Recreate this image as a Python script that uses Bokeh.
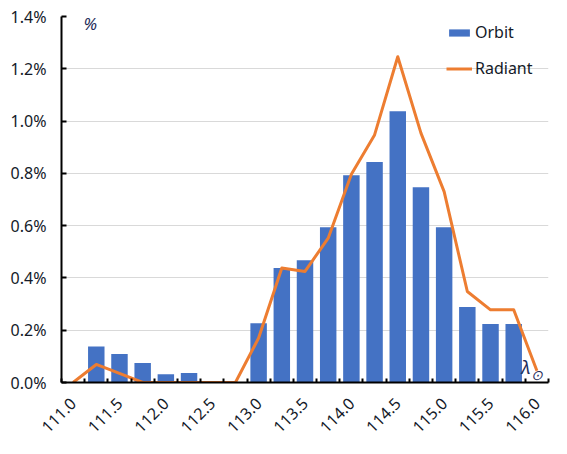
from bokeh.plotting import figure
from bokeh.models import (ColumnDataSource, FixedTicker, PrintfTickFormatter, Legend,
                          LegendItem, Label, Range1d)
from bokeh.embed import file_html
from bokeh.resources import INLINE
import math

# ---- data ----
categories = [111.0, 111.25, 111.5, 111.75, 112.0, 112.25, 112.5, 112.75, 113.0, 113.25,
              113.5, 113.75, 114.0, 114.25, 114.5, 114.75, 115.0, 115.25, 115.5, 115.75, 116.0]
orbit = [0.0, 0.138, 0.109, 0.075, 0.032, 0.036, 0.0, 0.0, 0.227, 0.438,
         0.468, 0.594, 0.793, 0.843, 1.038, 0.747, 0.594, 0.289, 0.224, 0.224, 0.0]
radiant = [0.0, 0.069, 0.035, 0.0, 0.0, 0.0, 0.0, 0.0, 0.170, 0.438,
           0.425, 0.552, 0.797, 0.947, 1.246, 0.954, 0.730, 0.348, 0.278, 0.278, 0.045]
tick_labels = ["111.0", "111.5", "112.0", "112.5", "113.0", "113.5",
               "114.0", "114.5", "115.0", "115.5", "116.0"]
y_ticks = [0.0, 0.2, 0.4, 0.6, 0.8, 1.0, 1.2, 1.4]

FONT = "Noto Sans"
TXT = "#141a28"
BLUE = "#4472C4"
ORANGE = "#ED7D31"
NAVY = "#1f2d5a"

idx = list(range(len(categories)))
src = ColumnDataSource(dict(x=idx, cat=categories, orbit=orbit, radiant=radiant))

p = figure(width=551, height=446, output_backend="svg", toolbar_location=None,
           x_range=Range1d(-0.5, len(categories) - 0.5), y_range=Range1d(0, 1.4),
           min_border_left=61, min_border_right=3, min_border_top=16, min_border_bottom=64)
p.outline_line_color = None
p.background_fill_color = "white"

bars = p.vbar(x="x", top="orbit", width=0.71, source=src, fill_color=BLUE, line_color=None)
line = p.line(x="x", y="radiant", source=src, line_color=ORANGE, line_width=3, line_join="round")

# x axis: labels every other category, tick marks at category boundaries (minor ticks)
major = [i for i in idx if i % 2 == 0]
p.xaxis.ticker = FixedTicker(ticks=major, minor_ticks=[i - 0.5 for i in range(len(categories) + 1)])
p.xaxis.major_label_overrides = {m: lab for m, lab in zip(major, tick_labels)}
p.xaxis.major_tick_in = 0
p.xaxis.major_tick_out = 0
p.xaxis.minor_tick_in = 4
p.xaxis.minor_tick_out = 0
p.xaxis.minor_tick_line_color = "black"
p.xaxis.minor_tick_line_width = 2
p.xaxis.axis_line_color = "black"
p.xaxis.axis_line_width = 2
p.xaxis.major_label_orientation = math.pi / 4
p.xaxis.major_label_standoff = 18
p.xaxis.major_label_text_font = FONT
p.xaxis.major_label_text_font_size = "16px"
p.xaxis.major_label_text_color = TXT

p.yaxis.ticker = FixedTicker(ticks=y_ticks)
p.yaxis.formatter = PrintfTickFormatter(format="%.1f%%")
p.yaxis.major_tick_in = 5
p.yaxis.major_tick_out = 0
p.yaxis.major_tick_line_width = 2
p.yaxis.minor_tick_line_color = None
p.yaxis.axis_line_color = "black"
p.yaxis.axis_line_width = 2
p.yaxis.major_label_standoff = 15
p.yaxis.major_label_text_font = FONT
p.yaxis.major_label_text_font_size = "16px"
p.yaxis.major_label_text_color = TXT

p.xgrid.grid_line_color = None
p.ygrid.grid_line_color = "#d9d9d9"
p.ygrid.grid_line_width = 1

legend = Legend(items=[LegendItem(label="Orbit", renderers=[bars]),
                       LegendItem(label="Radiant", renderers=[line])],
                location=(385, 303), padding=0, margin=0, spacing=14,
                glyph_width=26, glyph_height=9, label_height=20, label_standoff=3,
                label_text_font=FONT, label_text_font_size="16px", label_text_color=TXT,
                border_line_color=None, background_fill_alpha=0)
p.add_layout(legend)

p.add_layout(Label(x=0.45, y=1.375, text="%", text_font=FONT, text_font_style="italic",
                   text_font_size="17px", text_color=NAVY, text_baseline="alphabetic"))
p.add_layout(Label(x=19.32, y=0.06, text="λ", text_font=FONT, text_font_style="italic",
                   text_font_size="18px", text_color=NAVY, text_baseline="alphabetic"))
p.add_layout(Label(x=19.76, y=0.03, text="⊙", text_font=FONT, text_font_style="italic",
                   text_font_size="14px", text_color=NAVY, text_baseline="alphabetic"))

open("out.html", "w").write(file_html(p, INLINE))
